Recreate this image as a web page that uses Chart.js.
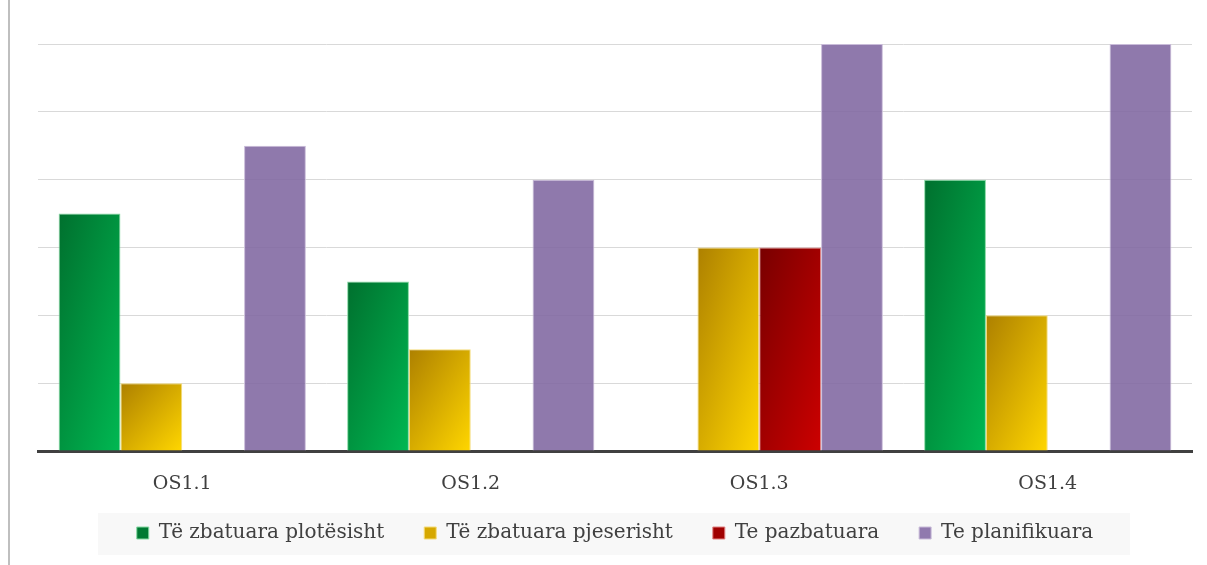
<!DOCTYPE html>
<html>
<head>
<meta charset="utf-8">
<script src="https://cdn.jsdelivr.net/npm/chart.js@4.4.0/dist/chart.umd.min.js"></script>
<style>
  html, body { margin: 0; padding: 0; background: #fff; }
  #wrap { width: 1207px; height: 565px; position: relative; }
</style>
</head>
<body>
<div id="wrap"><canvas id="chart" width="1207" height="565"></canvas></div>
<script>
const categories = ['OS1.1', 'OS1.2', 'OS1.3', 'OS1.4'];
const seriesNames = ['Të zbatuara plotësisht', 'Të zbatuara pjeserisht', 'Te pazbatuara', 'Te planifikuara'];
const fullyDone = [3.5, 2.5, 0, 4];
const partlyDone = [1, 1.5, 3, 2];
const notDone = [0, 0, 3, 0];
const planned = [4.5, 4, 6, 6];

// [dark corner, light corner, border, legend fill]
const shades = [
  ['#00702e', '#00b852', '#86d9a3', '#007a33'],
  ['#ad8000', '#ffd600', '#f5dc7a', '#d6a800'],
  ['#780000', '#cc0000', '#e08080', '#a00000'],
  ['#9079ae', '#9079ae', '#c9bcd9', '#9079ae']
];

// office style diagonal fill: dark top-left, light bottom-right
const gradientBars = {
  id: 'gradientBars',
  afterDatasetsUpdate(chart) {
    const c = chart.ctx;
    chart.data.datasets.forEach((ds, di) => {
      const meta = chart.getDatasetMeta(di);
      meta.data.forEach(el => {
        const w = el.width, h = Math.abs(el.base - el.y);
        if (di === 3 || h < 1) {
          el.options = Object.assign({}, el.options, { backgroundColor: 'rgba(128,102,160,0.88)' });
          return;
        }
        const cx = el.x, cy = (el.y + el.base) / 2;
        const k = (w * h) / (w * w + h * h);
        const g = c.createLinearGradient(cx - h * k, cy - w * k, cx + h * k, cy + w * k);
        g.addColorStop(0, shades[di][0]);
        g.addColorStop(1, shades[di][1]);
        el.options = Object.assign({}, el.options, { backgroundColor: g });
      });
    });
  }
};

const frame = {
  id: 'frame',
  afterLayout(chart) {
    // pull the legend row up so it sits inside the grey band
    const lg = chart.legend;
    const h = lg.height;
    lg.top = 483;
    lg.bottom = lg.top + h;
  },
  beforeDraw(chart) {
    const c = chart.ctx;
    c.save();
    c.fillStyle = '#ffffff';
    c.fillRect(0, 0, chart.width, chart.height);
    c.strokeStyle = '#bfbfbf';
    c.lineWidth = 2;
    c.beginPath();
    c.moveTo(9, 0);
    c.lineTo(9, chart.height);
    c.stroke();
    c.fillStyle = '#f8f8f8';
    c.fillRect(98, 513, 1032, 42);
    c.restore();
  }
};

new Chart(document.getElementById('chart'), {
  type: 'bar',
  data: {
    labels: categories,
    datasets: [fullyDone, partlyDone, notDone, planned].map((d, i) => ({
      label: seriesNames[i],
      data: d,
      backgroundColor: shades[i][3],
      borderColor: shades[i][2],
      borderWidth: 1,
      borderSkipped: 'bottom'
    }))
  },
  options: {
    responsive: false,
    animation: false,
    devicePixelRatio: 1,
    layout: { padding: { left: 38, right: 15, top: 44, bottom: 2 } },
    datasets: { bar: { categoryPercentage: 0.857, barPercentage: 1 } },
    plugins: {
      legend: {
        position: 'bottom',
        labels: {
          font: { family: 'DejaVu Serif', size: 20 },
          color: '#404040',
          boxWidth: 12,
          boxHeight: 12,
          padding: 40,
          generateLabels(chart) {
            return chart.data.datasets.map((ds, i) => ({
              text: ds.label,
              fillStyle: shades[i][3],
              strokeStyle: shades[i][2],
              lineWidth: 1,
              fontColor: '#404040',
              datasetIndex: i
            }));
          }
        }
      },
      tooltip: { enabled: false }
    },
    scales: {
      x: {
        grid: { display: false },
        border: { color: '#404040', width: 3 },
        ticks: { font: { family: 'DejaVu Serif', size: 19 }, color: '#404040', padding: 14 },
        afterFit(scale) { scale.height = 42; }
      },
      y: {
        min: 0,
        max: 6,
        ticks: { display: false, stepSize: 1 },
        grid: { color: '#d9d9d9', lineWidth: 1, drawTicks: false },
        border: { display: false }
      }
    }
  },
  plugins: [frame, gradientBars]
});
</script>
</body>
</html>
